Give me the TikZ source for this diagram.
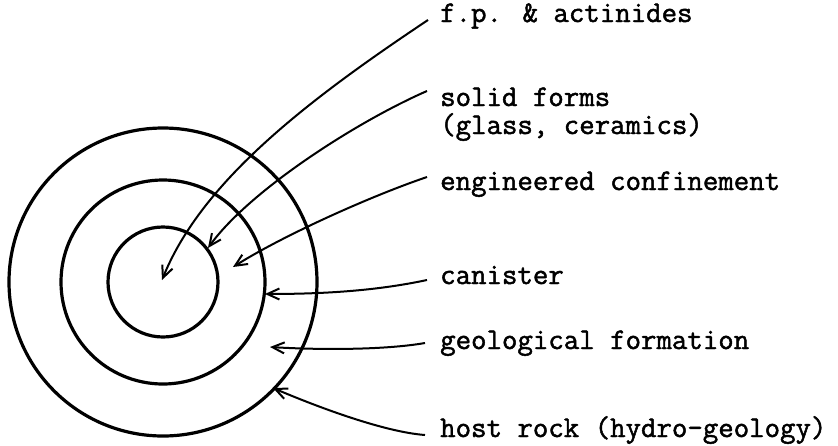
\documentclass[tikz,border=0pt]{standalone}
\usepackage{fontspec}
\newfontfamily\typewriter{Latin Modern Mono}[FakeBold=1.6]
\usetikzlibrary{arrows.meta}
\begin{document}
\begin{tikzpicture}[x=1pt,y=-1pt,
  ring/.style={draw, circle, line width=3.2pt, inner sep=0pt},
  lbl/.style={anchor=base west, inner sep=0pt, font=\fontsize{30}{30}\selectfont\typewriter},
  ptr/.style={line width=2pt, -{Straight Barb[length=12pt,width=11pt,line width=2pt]}}]
\useasboundingbox (0,0) rectangle (838,445);

% concentric barriers
\node[ring, minimum size=110pt] (core) at (163,282) {};
\node[ring, minimum size=204pt] (mid)  at (163,282) {};
\node[ring, minimum size=308pt] (outer) at (163,282) {};

% labels
\node[lbl] (fp)    at (440,22)  {f.p. \& actinides};
\node[lbl] (solid) at (440,106) {solid forms};
\node[lbl] (glass) at (440,134) {(glass, ceramics)};
\node[lbl] (eng)   at (440,190) {engineered confinement};
\node[lbl] (can)   at (440,284) {canister};
\node[lbl] (geo)   at (440,349) {geological formation};
\node[lbl] (host)  at (440,437) {host rock (hydro-geology)};

% pointer ends
\coordinate (s1) at (428,20);
\coordinate (s2) at (427,91);
\coordinate (s3) at (427,177);
\coordinate (s4) at (427,280);
\coordinate (s5) at (425,343);
\coordinate (s6) at (425,435);

\coordinate (t1) at (162,280);
\coordinate (t2) at (208,248);
\coordinate (t3) at (233,267);
\coordinate (t4) at (265,294);
\coordinate (t5) at (270,347);
\coordinate (t6) at (273,388);

\draw[ptr] (s1) .. controls (308,100) and (202,181) .. (t1);
\draw[ptr] (s2) .. controls (356,122) and (249,191) .. (t2);
\draw[ptr] (s3) .. controls (371,196) and (284,235) .. (t3);
\draw[ptr] (s4) .. controls (380,290) and (330,294) .. (t4);
\draw[ptr] (s5) .. controls (385,350) and (320,350) .. (t5);
\draw[ptr] (s6) .. controls (385,432) and (320,408) .. (t6);
\end{tikzpicture}
\end{document}
